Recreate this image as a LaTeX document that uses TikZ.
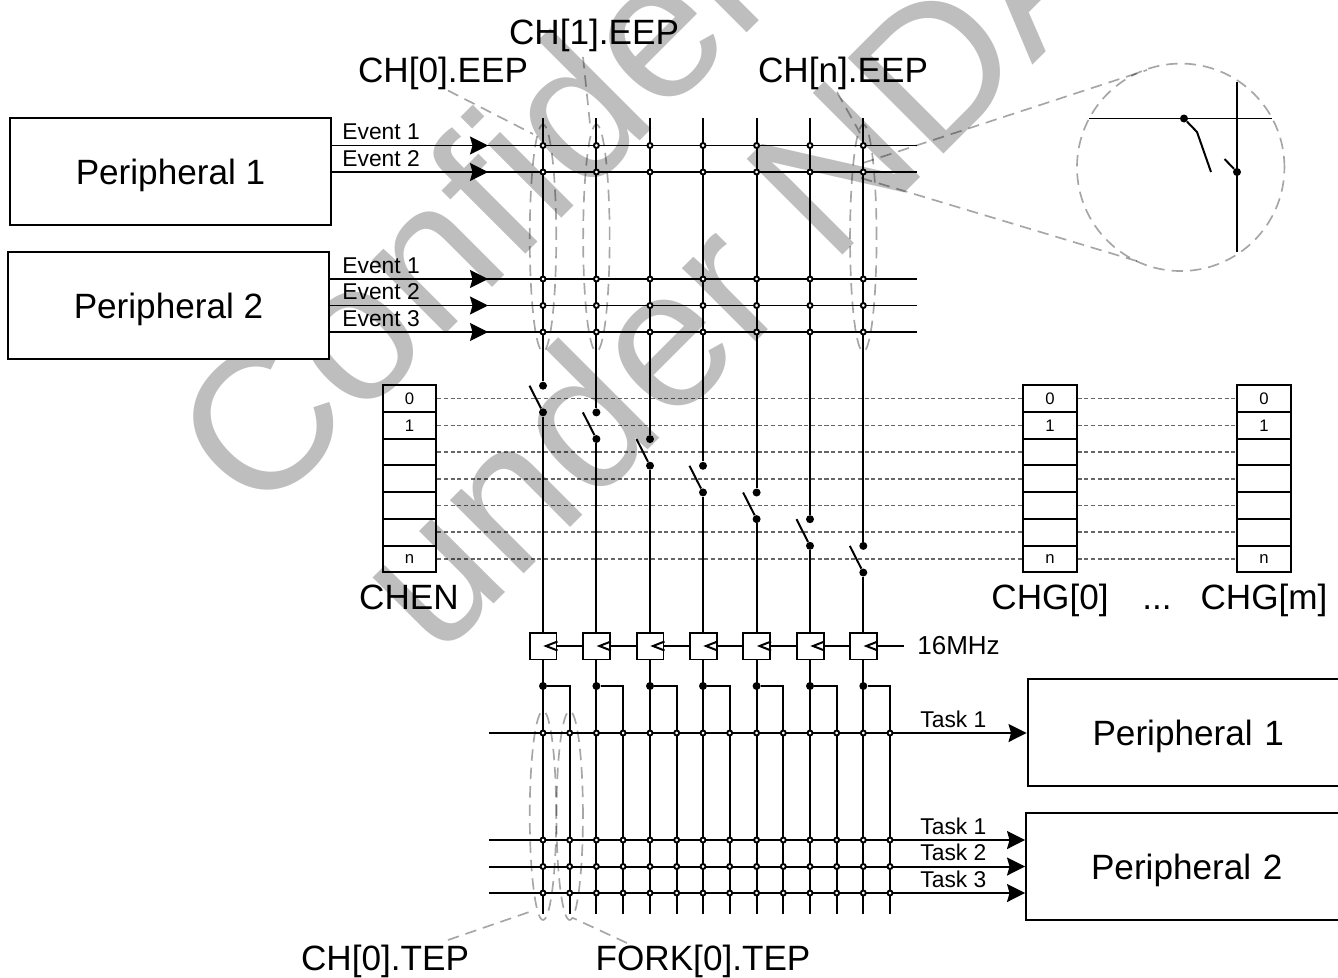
\documentclass[tikz,border=0pt]{standalone}
\usepackage{fontspec}
\setmainfont{Liberation Sans}
\usetikzlibrary{arrows.meta,calc,positioning,shapes.geometric}
\definecolor{markC}{HTML}{BEBEBE}
\newcommand\fsz[1]{\fontsize{#1}{#1}\selectfont}
\tikzset{
  wire/.style={draw=black, line width=1.13pt},
  periph/.style={draw, line width=1.13pt, fill=white, inner sep=0pt, text height=14.3pt, text depth=0pt, font=\fsz{20}},
  arr/.style={wire, -{Stealth[length=3.6mm,width=3.6mm,inset=0.5mm]}},
  lab/.style={anchor=west, inner sep=0pt, font=\fsz{13}},
  title/.style={inner sep=0pt, text height=14.3pt, text depth=0pt, font=\fsz{20}},
  cell/.style={draw, line width=1.13pt, minimum width=1.07cm, minimum height=0.534cm, inner sep=0pt, font=\fsz{9.5}},
  row/.style={draw=black, draw opacity=0.6, line width=0.9pt, dash pattern=on 2.3pt off 1.5pt},
  lead/.style={draw=black, draw opacity=0.35, line width=0.95pt, dash pattern=on 6.5pt off 4pt},
  halo/.style={lead, ellipse, inner sep=0pt, minimum width=0.53cm},
  on/.style={circle, fill=black, inner sep=0pt, minimum size=0.16cm},
  off/.style={circle, draw=black, fill=white, line width=1.1pt, inner sep=0pt, minimum size=0.1cm},
  ff/.style={draw, line width=1.13pt, fill=white, minimum size=0.54cm, inner sep=0pt},
  wmark/.style={text=markC, inner sep=0pt, rotate=45, anchor=base west, font=\fsz{112}},
}
\begin{document}
\begin{tikzpicture}[x=0.02cm,y=-0.02cm]
\path[use as bounding box, clip] (0,0) rectangle (1338,977);
\node[wmark] at (258,522) {Confidential};
\node[wmark] at (437,661) {under NDA};
% blocks
\node[periph, minimum width=6.42cm, minimum height=2.15cm] (pl1) at (170.5,171.5) {Peripheral 1};
\node[periph, minimum width=6.42cm, minimum height=2.15cm] (pl2) at (168.5,305.5) {Peripheral 2};
\node[periph, minimum width=6.42cm, minimum height=2.15cm, text width=6.42cm, align=left] (pr1) at (1188,732.5) {\hspace{1.3cm}Peripheral 1};
\node[periph, minimum width=6.42cm, minimum height=2.15cm, text width=6.42cm, align=left] (pr2) at (1186.5,866.5) {\hspace{1.3cm}Peripheral 2};
% registers
\foreach \reg/\x in {chen/409.5,chga/1050,chgb/1264}{
  \foreach \r in {0,...,6}{
    \node[cell] (\reg\r) at (\x,{398.7+\r*26.7}) {};
  }
  \node[inner sep=0pt, font=\fsz{9.5}] at (\reg0) {0};
  \node[inner sep=0pt, font=\fsz{9.5}] at (\reg1) {1};
  \node[inner sep=0pt, font=\fsz{9.5}] at (\reg6) {n};
}
\foreach \r in {0,...,6}{
  \draw[row] (chen\r.east) -- (chga\r.west);
  \draw[row] (chga\r.east) -- (chgb\r.west);
}
\node[title] (tchen) at (409,597) {CHEN};
\node[title] (tchga) at (1050,597) {CHG[0]};
\node[title] (tdots) at (1157,597) {...};
\node[title] (tchgb) at (1264,597) {CHG[m]};
% event and task rows
\foreach \n/\y/\s/\t in {ev1/145.5/pl1/Event 1,ev2/172/pl1/Event 2,ev3/279/pl2/Event 1,ev4/305.5/pl2/Event 2,ev5/332/pl2/Event 3}{
  \coordinate (\n a) at (\s.east |- 0,\y);
  \coordinate (\n b) at (488,\y);
  \coordinate (\n c) at (917,\y);
  \draw[wire] (\n a) -- (\n c);
  \draw[arr] (\n a) -- (\n b);
  \node[lab] at (342,\y-13.5) {\t};
}
\foreach \n/\y/\s/\t in {ta1/733/pr1/Task 1,ta2/840/pr2/Task 1,ta3/866.5/pr2/Task 2,ta4/893/pr2/Task 3}{
  \coordinate (\n a) at (489,\y);
  \coordinate (\n b) at (\s.west |- 0,\y);
  \draw[arr] (\n a) -- (\n b);
  \node[lab] at (920,\y-14) {\t};
}
% channels
\foreach \i/\x in {0/543,1/596.4,2/650,3/703,4/756.6,5/810,6/863.3}{
  \node[on] (up\i) at (\x,{385.7+\i*26.7}) {};
  \node[on] (lo\i) at (\x,{412.3+\i*26.7}) {};
  \node[ff] (ff\i) at (\x,646) {};
  \node[on] (out\i) at (\x,686) {};
  \coordinate (top\i) at (\x,118);
  \coordinate (sw\i) at ($(lo\i)+(-13.5,-26.6)$);
  \coordinate (end\i) at (\x,914);
  \coordinate (fk\i) at (\x+26.7,686);
  \coordinate (fe\i) at (\x+26.7,914);
  \draw[wire] (top\i) -- (up\i);
  \draw[wire] (lo\i) -- (sw\i);
  \draw[wire] (lo\i) -- (ff\i.north);
  \draw[wire] (ff\i.south) -- (end\i);
  \draw[wire] (out\i) -- (fk\i) -- (fe\i);
  \foreach \n in {ev1,ev2,ev3,ev4,ev5}{
    \node[off] (\n x\i) at (\n c -| top\i) {};
  }
  \foreach \n in {ta1,ta2,ta3,ta4}{
    \node[off] (\n x\i) at (\n a -| top\i) {};
    \node[off] (\n y\i) at (\n a -| fk\i) {};
  }
  \draw[wire] ($(ff\i.east)+(0,-4.5)$) -- ($(ff\i.center)+(3,0)$) -- ($(ff\i.east)+(0,4.5)$);
}
\node[anchor=west, inner sep=0pt, inner xsep=0.26cm, font=\fsz{14.8}] (clk) at (904,646) {16MHz};
\foreach \a/\b in {0/1,1/2,2/3,3/4,4/5,5/6}{
  \draw[wire] (ff\a.east) -- (ff\b.west);
}
\draw[wire] (clk.west) -- (ff6.east);
% call-outs
\node[halo, minimum height=4.54cm] (hl0) at (543,238) {};
\node[halo, minimum height=4.54cm] (hl1) at (596.4,238) {};
\node[halo, minimum height=4.54cm] (hln) at (863.3,238) {};
\node[halo, minimum height=4.18cm] (ht0) at (543,815.5) {};
\node[halo, minimum height=4.18cm] (ht1) at (569.7,815.5) {};
\node[title] (tch0) at (443,70) {CH[0].EEP};
\node[title] (tch1) at (594,31.5) {CH[1].EEP};
\node[title] (tchn) at (843,70) {CH[n].EEP};
\node[title] (tte0) at (385,958) {CH[0].TEP};
\node[title] (tfk0) at (703,958) {FORK[0].TEP};
\coordinate (lh0) at (533,134);
\coordinate (lh1) at (590,124);
\coordinate (lhn) at (860,133);
\coordinate (lt0) at (535,910);
\coordinate (lt1) at (573,918);
\draw[lead] (448,90.5) coordinate (lch0) -- (lh0);
\draw[lead] (583,57) coordinate (lch1) -- (lh1);
\draw[lead] (837,92) coordinate (lchn) -- (lhn);
\draw[lead] (448,940) coordinate (lte0) -- (lt0);
\draw[lead] (627,943) coordinate (lfk0) -- (lt1);
% detail view
\node[lead, circle, inner sep=0pt, minimum size=4.15cm] (lens) at (1180.7,167.3) {};
\coordinate (la) at (863,163);
\coordinate (lb) at (1147,70);
\coordinate (lc) at (861,178);
\coordinate (ld) at (1140,262);
\draw[lead] (la) -- (lb);
\draw[lead] (lc) -- (ld);
\node[on] (ldh) at (1184,118.5) {};
\node[on] (ldv) at (1237,172) {};
\coordinate (lh) at (1089,118.5);
\coordinate (lhe) at (1272,118.5);
\coordinate (lvt) at (1237,82);
\coordinate (lvb) at (1237,252);
\coordinate (lk) at (1197,132);
\coordinate (lke) at (1211,172);
\coordinate (lm) at (1224.5,159);
\draw[wire] (lh) -- (lhe);
\draw[wire] (lvt) -- (lvb);
\draw[wire] (ldh) -- (lk) -- (lke);
\draw[wire] (ldv) -- (lm);
\end{tikzpicture}
\end{document}
